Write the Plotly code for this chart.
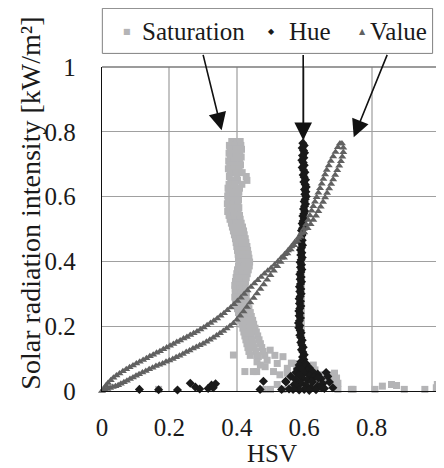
import plotly.graph_objects as go

# Saturation (light grey squares)
sat_x = [
    0.385, 0.400, 0.410, 0.378, 0.395, 0.412, 0.380, 0.398, 0.414, 0.377, 0.393, 0.409,
    0.381, 0.397, 0.413, 0.376, 0.392, 0.408, 0.379, 0.396, 0.411, 0.375, 0.391, 0.407,
    0.380, 0.398, 0.416, 0.378, 0.400, 0.428, 0.382, 0.402, 0.430, 0.377, 0.395, 0.415,
    0.374, 0.391, 0.408, 0.376, 0.393, 0.406, 0.373, 0.389, 0.404, 0.375, 0.390, 0.405,
    0.372, 0.388, 0.403, 0.376, 0.391, 0.406, 0.373, 0.389, 0.404, 0.377, 0.392, 0.408,
    0.380, 0.395, 0.410, 0.384, 0.398, 0.413, 0.387, 0.402, 0.417, 0.390, 0.405, 0.420,
    0.393, 0.408, 0.422, 0.396, 0.410, 0.425, 0.398, 0.413, 0.427, 0.400, 0.415, 0.430,
    0.402, 0.417, 0.432, 0.404, 0.419, 0.434, 0.405, 0.420, 0.436, 0.407, 0.422, 0.438,
    0.405, 0.421, 0.437, 0.402, 0.418, 0.434, 0.400, 0.415, 0.431, 0.398, 0.413, 0.428,
    0.396, 0.411, 0.426, 0.394, 0.409, 0.425, 0.395, 0.410, 0.426, 0.396, 0.412, 0.428,
    0.394, 0.410, 0.427, 0.396, 0.413, 0.430, 0.399, 0.416, 0.433, 0.402, 0.419, 0.436,
    0.405, 0.422, 0.440, 0.408, 0.425, 0.443, 0.412, 0.429, 0.447, 0.415, 0.432, 0.450,
    0.418, 0.436, 0.454, 0.421, 0.439, 0.458, 0.424, 0.442, 0.462, 0.427, 0.446, 0.466,
    0.430, 0.449, 0.470, 0.433, 0.452, 0.474, 0.436, 0.456, 0.478, 0.440, 0.460, 0.483,
    0.390, 0.424, 0.449, 0.459, 0.464, 0.513, 0.537, 0.499, 0.568, 0.550, 0.578, 0.607,
    0.627, 0.657, 0.677, 0.696, 0.700, 0.484, 0.509, 0.528, 0.562, 0.577, 0.632, 0.671,
    0.681, 0.652, 0.617, 0.597, 0.460, 0.470, 0.490, 0.520, 0.550, 0.590, 0.620, 0.640,
    0.660, 0.580, 0.600, 0.630, 0.520, 0.560, 0.690, 0.479, 0.500, 0.537, 0.168, 0.740,
    0.745, 0.810, 0.832, 0.859, 0.874, 0.897, 0.958, 0.992, 0.995, 0.700,
]
sat_y = [
    0.770, 0.770, 0.770, 0.758, 0.758, 0.758, 0.746, 0.746, 0.746, 0.734, 0.734, 0.734,
    0.722, 0.722, 0.722, 0.710, 0.710, 0.710, 0.698, 0.698, 0.698, 0.686, 0.686, 0.686,
    0.674, 0.674, 0.674, 0.662, 0.662, 0.662, 0.650, 0.650, 0.650, 0.638, 0.638, 0.638,
    0.626, 0.626, 0.626, 0.614, 0.614, 0.614, 0.602, 0.602, 0.602, 0.590, 0.590, 0.590,
    0.578, 0.578, 0.578, 0.566, 0.566, 0.566, 0.554, 0.554, 0.554, 0.542, 0.542, 0.542,
    0.530, 0.530, 0.530, 0.518, 0.518, 0.518, 0.506, 0.506, 0.506, 0.494, 0.494, 0.494,
    0.482, 0.482, 0.482, 0.470, 0.470, 0.470, 0.458, 0.458, 0.458, 0.446, 0.446, 0.446,
    0.434, 0.434, 0.434, 0.422, 0.422, 0.422, 0.410, 0.410, 0.410, 0.398, 0.398, 0.398,
    0.386, 0.386, 0.386, 0.374, 0.374, 0.374, 0.362, 0.362, 0.362, 0.350, 0.350, 0.350,
    0.338, 0.338, 0.338, 0.326, 0.326, 0.326, 0.314, 0.314, 0.314, 0.302, 0.302, 0.302,
    0.290, 0.290, 0.290, 0.278, 0.278, 0.278, 0.266, 0.266, 0.266, 0.254, 0.254, 0.254,
    0.242, 0.242, 0.242, 0.230, 0.230, 0.230, 0.218, 0.218, 0.218, 0.206, 0.206, 0.206,
    0.194, 0.194, 0.194, 0.182, 0.182, 0.182, 0.170, 0.170, 0.170, 0.158, 0.158, 0.158,
    0.146, 0.146, 0.146, 0.134, 0.134, 0.134, 0.122, 0.122, 0.122, 0.110, 0.110, 0.110,
    0.111, 0.060, 0.060, 0.060, 0.106, 0.110, 0.106, 0.126, 0.085, 0.055, 0.044, 0.070,
    0.080, 0.050, 0.035, 0.040, 0.024, 0.075, 0.060, 0.050, 0.086, 0.075, 0.065, 0.050,
    0.025, 0.020, 0.010, 0.020, 0.090, 0.080, 0.095, 0.085, 0.070, 0.050, 0.045, 0.035,
    0.030, 0.030, 0.020, 0.010, 0.020, 0.010, 0.055, 0.005, 0.005, 0.005, 0.005, 0.005,
    0.005, 0.005, 0.015, 0.020, 0.017, 0.005, 0.005, 0.010, 0.020, 0.005,
]

# Hue (black diamonds)
hue_x = [
    0.596, 0.600, 0.594, 0.598, 0.601, 0.595, 0.599, 0.593, 0.597, 0.600, 0.594, 0.598,
    0.602, 0.597, 0.600, 0.604, 0.599, 0.603, 0.606, 0.601, 0.605, 0.602, 0.606, 0.603,
    0.600, 0.604, 0.601, 0.598, 0.602, 0.599, 0.596, 0.600, 0.597, 0.594, 0.598, 0.595,
    0.592, 0.596, 0.593, 0.590, 0.594, 0.591, 0.595, 0.592, 0.589, 0.593, 0.590, 0.594,
    0.591, 0.588, 0.592, 0.589, 0.593, 0.590, 0.587, 0.591, 0.588, 0.592, 0.589, 0.586,
    0.590, 0.587, 0.591, 0.588, 0.585, 0.589, 0.586, 0.590, 0.587, 0.584, 0.588, 0.585,
    0.589, 0.586, 0.583, 0.587, 0.584, 0.588, 0.591, 0.587, 0.590, 0.594, 0.590, 0.593,
    0.597, 0.592, 0.596, 0.600, 0.595, 0.599,
    0.590, 0.605, 0.585, 0.600, 0.615, 0.580, 0.595, 0.610, 0.625, 0.575, 0.600, 0.640,
    0.585, 0.615, 0.560, 0.630, 0.595, 0.650, 0.575, 0.610, 0.545, 0.625, 0.590, 0.655,
    0.570, 0.605, 0.640, 0.580, 0.620, 0.660, 0.555, 0.600, 0.635, 0.585, 0.615, 0.665,
    0.670, 0.675, 0.685, 0.642, 0.622, 0.652, 0.567,
    0.111, 0.168, 0.224, 0.262, 0.277, 0.290, 0.315, 0.325, 0.337, 0.330, 0.469, 0.479,
    0.533, 0.546,
]
hue_y = [
    0.765, 0.758, 0.750, 0.742, 0.735, 0.727, 0.720, 0.712, 0.705, 0.697, 0.690, 0.682,
    0.675, 0.667, 0.660, 0.652, 0.645, 0.637, 0.630, 0.622, 0.615, 0.607, 0.600, 0.592,
    0.585, 0.577, 0.570, 0.562, 0.555, 0.547, 0.540, 0.532, 0.525, 0.517, 0.510, 0.502,
    0.495, 0.487, 0.480, 0.472, 0.465, 0.457, 0.450, 0.442, 0.435, 0.427, 0.420, 0.412,
    0.405, 0.397, 0.390, 0.382, 0.375, 0.367, 0.360, 0.352, 0.345, 0.337, 0.330, 0.322,
    0.315, 0.307, 0.300, 0.292, 0.285, 0.277, 0.270, 0.262, 0.255, 0.247, 0.240, 0.232,
    0.225, 0.217, 0.210, 0.202, 0.195, 0.187, 0.180, 0.172, 0.165, 0.157, 0.150, 0.142,
    0.135, 0.127, 0.120, 0.112, 0.105, 0.097,
    0.090, 0.085, 0.080, 0.075, 0.072, 0.068, 0.065, 0.062, 0.060, 0.057, 0.055, 0.052,
    0.050, 0.048, 0.045, 0.043, 0.040, 0.038, 0.035, 0.033, 0.030, 0.028, 0.025, 0.023,
    0.020, 0.018, 0.015, 0.012, 0.010, 0.008, 0.006, 0.005, 0.004, 0.003, 0.002, 0.057,
    0.045, 0.028, 0.010, 0.040, 0.030, 0.010, 0.005,
    0.005, 0.004, 0.003, 0.024, 0.012, 0.006, 0.008, 0.018, 0.022, 0.010, 0.005, 0.030,
    0.005, 0.028,
]

# Value (dark grey triangles), two branches of the loop
val_x = [
    0.000, 0.006, 0.012, 0.018, 0.026, 0.034, 0.043, 0.052, 0.062, 0.072, 0.082, 0.092,
    0.102, 0.112, 0.122, 0.132, 0.142, 0.152, 0.162, 0.172, 0.182, 0.192, 0.202, 0.212,
    0.222, 0.232, 0.242, 0.252, 0.262, 0.272, 0.282, 0.292, 0.302, 0.312, 0.322, 0.332,
    0.342, 0.352, 0.362, 0.372, 0.382, 0.392, 0.402, 0.412, 0.422, 0.432, 0.442, 0.452,
    0.462, 0.472, 0.482, 0.492, 0.502, 0.512, 0.522, 0.532, 0.542, 0.552, 0.562, 0.572,
    0.582, 0.591, 0.599, 0.606, 0.612, 0.617, 0.622, 0.627, 0.632, 0.637, 0.642, 0.647,
    0.652, 0.657, 0.662, 0.667, 0.673, 0.679, 0.686, 0.693, 0.700, 0.706,
    0.008, 0.016, 0.024, 0.032, 0.040, 0.048, 0.056, 0.065, 0.074, 0.083, 0.092, 0.101,
    0.110, 0.120, 0.130, 0.140, 0.150, 0.160, 0.170, 0.180, 0.190, 0.200, 0.210, 0.220,
    0.230, 0.240, 0.250, 0.260, 0.270, 0.280, 0.290, 0.300, 0.310, 0.320, 0.330, 0.340,
    0.350, 0.360, 0.370, 0.380, 0.390, 0.400, 0.410, 0.420, 0.430, 0.440, 0.450, 0.460,
    0.470, 0.480, 0.490, 0.500, 0.510, 0.520, 0.530, 0.540, 0.550, 0.560, 0.570, 0.580,
    0.590, 0.600, 0.610, 0.619, 0.627, 0.635, 0.642, 0.649, 0.656, 0.662, 0.668, 0.674,
    0.680, 0.686, 0.692, 0.698, 0.704, 0.709, 0.713, 0.716, 0.716, 0.712,
]
val_y = [
    0.000, 0.008, 0.017, 0.025, 0.033, 0.041, 0.048, 0.054, 0.061, 0.067, 0.073, 0.079,
    0.085, 0.090, 0.096, 0.101, 0.107, 0.112, 0.118, 0.123, 0.129, 0.134, 0.140, 0.145,
    0.151, 0.156, 0.162, 0.167, 0.173, 0.178, 0.184, 0.190, 0.196, 0.203, 0.210, 0.217,
    0.224, 0.232, 0.240, 0.249, 0.258, 0.268, 0.278, 0.288, 0.299, 0.310, 0.321, 0.332,
    0.342, 0.352, 0.362, 0.371, 0.380, 0.390, 0.400, 0.411, 0.422, 0.434, 0.446, 0.459,
    0.472, 0.486, 0.500, 0.514, 0.528, 0.542, 0.556, 0.570, 0.584, 0.598, 0.612, 0.626,
    0.640, 0.654, 0.668, 0.682, 0.696, 0.710, 0.724, 0.738, 0.752, 0.764,
    0.003, 0.006, 0.009, 0.012, 0.015, 0.018, 0.022, 0.027, 0.032, 0.037, 0.042, 0.047,
    0.052, 0.057, 0.062, 0.067, 0.072, 0.077, 0.081, 0.085, 0.090, 0.094, 0.099, 0.104,
    0.109, 0.114, 0.120, 0.125, 0.131, 0.136, 0.141, 0.146, 0.152, 0.158, 0.164, 0.171,
    0.178, 0.185, 0.193, 0.201, 0.209, 0.220, 0.232, 0.245, 0.259, 0.273, 0.287, 0.301,
    0.315, 0.329, 0.343, 0.357, 0.371, 0.385, 0.398, 0.411, 0.424, 0.437, 0.450, 0.463,
    0.476, 0.489, 0.502, 0.515, 0.528, 0.541, 0.555, 0.569, 0.583, 0.597, 0.611, 0.625,
    0.639, 0.653, 0.667, 0.681, 0.695, 0.709, 0.723, 0.737, 0.751, 0.764,
]

series_names = ['Saturation', 'Hue', 'Value']
legend_symbols = ['\u25a0', '\u25c6', '\u25b2']
tick_vals = [0, 0.2, 0.4, 0.6, 0.8, 1]
tick_text = ['0', '0.2', '0.4', '0.6', '0.8', '1']

SAT_COLOR = '#b4b4b6'
HUE_COLOR = '#1a1a1a'
VAL_COLOR = '#616161'
FONT = 'Liberation Serif'
TXT = '#1a1a1a'

fig = go.Figure()
fig.add_trace(go.Scatter(x=sat_x, y=sat_y, mode='markers', name=series_names[0], showlegend=False,
                         cliponaxis=False, marker=dict(symbol='square', size=7, color=SAT_COLOR)))
fig.add_trace(go.Scatter(x=hue_x, y=hue_y, mode='markers', name=series_names[1], showlegend=False,
                         cliponaxis=False, marker=dict(symbol='diamond', size=7, color=HUE_COLOR)))
fig.add_trace(go.Scatter(x=val_x, y=val_y, mode='markers', name=series_names[2], showlegend=False,
                         cliponaxis=False, marker=dict(symbol='triangle-up', size=7, color=VAL_COLOR)))

# boxed legend drawn by hand above the plot
fig.add_shape(type='rect', xref='paper', yref='paper', x0=0.001, x1=0.981, y0=1.042, y1=1.181,
              line=dict(color='#808080', width=1), fillcolor='white')
legend_sym_x = [0.074, 0.5036, 0.774]
legend_txt_x = [0.1134, 0.548, 0.790]
for name, sym, col, sx, tx in zip(series_names, legend_symbols, [SAT_COLOR, HUE_COLOR, VAL_COLOR],
                                  legend_sym_x, legend_txt_x):
    fig.add_annotation(x=sx, y=1.111, xref='paper', yref='paper', text=sym, showarrow=False,
                       xanchor='center', yanchor='middle', font=dict(family='DejaVu Sans', size=8, color=col))
    fig.add_annotation(x=tx, y=1.111, xref='paper', yref='paper', text=name, showarrow=False,
                       xanchor='left', yanchor='middle', font=dict(family=FONT, size=25, color=TXT))

# arrows from legend to each series
arrows = [(0.355, 0.805, 0.299), (0.597, 0.774, 0.597), (0.747, 0.783, 0.848)]
for tx, ty, sx in arrows:
    fig.add_annotation(x=tx, y=ty, ax=sx, ay=1.042, xref='x', yref='y', axref='x', ayref='y',
                       text='', showarrow=True, arrowhead=2, arrowsize=2.2, arrowwidth=1.6,
                       arrowcolor='#111111')

# axis titles as annotations (y title sits above the plot centre in the original)
fig.add_annotation(x=-0.212, y=0.58, xref='paper', yref='paper', textangle=-90,
                   text='Solar radiation intensity [kW/m\u00b2]', showarrow=False,
                   xanchor='center', yanchor='middle', font=dict(family=FONT, size=28, color=TXT))
fig.add_annotation(x=0.504, y=-0.194, xref='paper', yref='paper', text='HSV', showarrow=False,
                   xanchor='center', yanchor='middle', font=dict(family=FONT, size=25, color=TXT))

# plot frame: top and right borders
fig.add_shape(type='line', xref='paper', yref='paper', x0=0, x1=1, y0=1, y1=1,
              line=dict(color='#7a7a7a', width=1.3))
fig.add_shape(type='line', xref='paper', yref='paper', x0=1, x1=1, y0=0, y1=1,
              line=dict(color='#333333', width=1.3))

# page body adds an 8px margin, so the figure is a little smaller than the window
fig.update_layout(
    width=436, height=460,
    margin=dict(l=94, r=5, t=59, b=77),
    paper_bgcolor='white', plot_bgcolor='white',
    showlegend=False,
    xaxis=dict(range=[0, 1], tickvals=tick_vals, ticktext=tick_text, showgrid=True,
               gridcolor='#c4c4c4', gridwidth=1.5, zeroline=False, showline=True,
               linecolor='#111111', linewidth=1.3, ticks='', ticklabelstandoff=14,
               tickfont=dict(family=FONT, size=25, color=TXT)),
    yaxis=dict(range=[0, 1], tickvals=tick_vals, ticktext=tick_text, showgrid=True,
               gridcolor='#a0a0a0', gridwidth=1, zeroline=False, showline=True,
               linecolor='#111111', linewidth=1.3, ticks='', ticklabelstandoff=20,
               tickfont=dict(family=FONT, size=25, color=TXT)),
)

fig.write_html('out.html')
